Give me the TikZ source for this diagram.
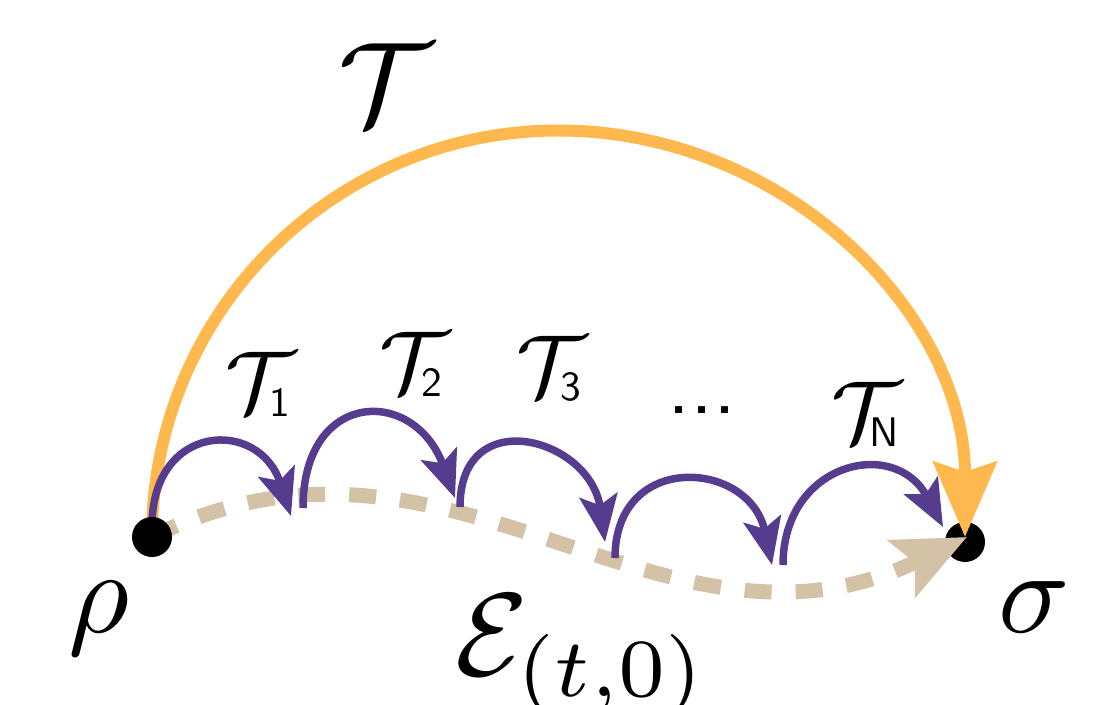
\documentclass[tikz,border=0pt]{standalone}
\usepackage{amsmath}
\usepackage{graphicx}
\usetikzlibrary{arrows.meta}
\definecolor{arcorange}{RGB}{255,184,77}
\definecolor{hoppurple}{RGB}{86,60,142}
\definecolor{chantan}{RGB}{212,194,167}
\newcommand\hopsub[2]{$\mathcal{T}$\kern#1\raisebox{-0.45pt}{\scalebox{0.47}{\sffamily #2}}}
\begin{document}
\begin{tikzpicture}[x=1pt,y=1pt,
  dotnode/.style={circle,fill=black,inner sep=0pt,minimum size=40pt},
  bigarc/.style={draw=arcorange,line width=12pt,-{Stealth[length=75pt,width=63pt,inset=10pt]}},
  hop/.style={draw=hoppurple,line width=7.5pt,-{Stealth[length=47pt,width=38pt,inset=10pt]}},
  channel/.style={draw=chantan,line width=15pt,dash pattern=on 27pt off 24pt,-{Stealth[length=72pt,width=62pt,inset=14pt]}},
  bigmath/.style={inner sep=0pt,anchor=base west,scale=11.8},
  hoplabel/.style={inner sep=0pt,anchor=base west,scale=8.8},
]
\useasboundingbox (0,0) rectangle (1115,704);
\coordinate (rhoC) at (152,167);
\coordinate (sigC) at (965,162);
\coordinate (chanEnd) at (967,167);
\coordinate (h1s) at (152,178);  \coordinate (h1e) at (291,188);
\coordinate (h2s) at (303,196);  \coordinate (h2e) at (455,206);
\coordinate (h3s) at (460,197);  \coordinate (h3e) at (605,162);
\coordinate (h4s) at (615,146);  \coordinate (h4e) at (772,139);
\coordinate (h5s) at (783,139);  \coordinate (h5e) at (943,177);

\node[dotnode] (sigma) at (sigC) {};

\path[channel] (rhoC) .. controls (450,316) and (660,18) .. (chanEnd);
\path[bigarc] (rhoC) arc[start angle=180,end angle=0,radius=406.5];

\path[hop] (h1s) to[out=90,in=108,looseness=1.9] (h1e);
\path[hop] (h2s) to[out=90,in=110,looseness=2.0] (h2e);
\path[hop] (h3s) to[out=90,in=98,looseness=1.8] (h3e);
\path[hop] (h4s) to[out=90,in=102,looseness=1.75] (h4e);
\path[hop] (h5s) to[out=90,in=118,looseness=1.6] (h5e);

\node[dotnode] (rho) at (rhoC) {};

\node[bigmath] (Tbig) at (336,579) {$\mathcal{T}$};
\node[hoplabel] (T1) at (224,291) {\hopsub{-3.0pt}{1}};
\node[hoplabel] (T2) at (378,311) {\hopsub{-3.2pt}{2}};
\node[hoplabel] (T3) at (515,307) {\hopsub{-3.0pt}{3}};
\node[hoplabel] (TN) at (830,261) {\hopsub{-3.7pt}{N}};
\node[font=\sffamily,inner sep=0pt,scale=8.3] (dots) at (702,294) {...};
\node[bigmath] (rholab) at (66,72) {$\rho$};
\node[bigmath] (siglab) at (996,72) {$\sigma$};
\node[bigmath] (Elab) at (453,29) {$\mathcal{E}_{(t,0)}$};
\end{tikzpicture}
\end{document}
